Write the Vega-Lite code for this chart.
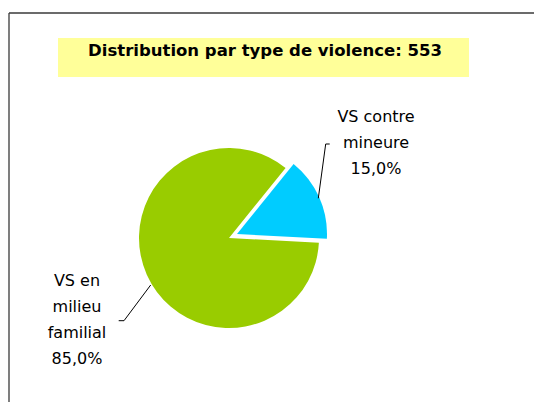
{
  "$schema": "https://vega.github.io/schema/vega-lite/v6.json",
  "width": 534,
  "height": 402,
  "autosize": {"type": "none"},
  "padding": 0,
  "background": "white",
  "config": {"view": {"stroke": null}},
  "data": {"values": [
    {"type": "VS contre mineure", "value": 83, "label": "VS contre\nmineure\n15,0%"},
    {"type": "VS en milieu familial", "value": 470, "label": "VS en\nmilieu\nfamilial\n85,0%"}
  ]},
  "layer": [
    {
      "data": {"values": [{}]},
      "mark": {"type": "rule", "stroke": "#3a3a3a", "strokeWidth": 1.3},
      "encoding": {
        "x": {"datum": 9, "type": "quantitative", "scale": {"domain": [0, 534], "nice": false, "zero": false}, "axis": null},
        "x2": {"datum": 534},
        "y": {"datum": 13, "type": "quantitative", "scale": {"domain": [0, 402], "nice": false, "zero": false, "reverse": true}, "axis": null}
      }
    },
    {
      "data": {"values": [{}]},
      "mark": {"type": "rule", "stroke": "#3a3a3a", "strokeWidth": 1.3},
      "encoding": {
        "x": {"datum": 9, "type": "quantitative"},
        "y": {"datum": 13, "type": "quantitative"},
        "y2": {"datum": 402}
      }
    },
    {
      "data": {"values": [{}]},
      "mark": {"type": "rect", "fill": "#FFFF99"},
      "encoding": {
        "x": {"datum": 58, "type": "quantitative"},
        "x2": {"datum": 469},
        "y": {"datum": 38, "type": "quantitative"},
        "y2": {"datum": 77}
      }
    },
    {
      "data": {"values": [{"titre": "Distribution par type de violence: 553"}]},
      "mark": {"type": "text", "font": "DejaVu Sans", "fontWeight": "bold", "fontSize": 16.5, "color": "#000000", "align": "center", "baseline": "middle"},
      "encoding": {
        "x": {"datum": 265, "type": "quantitative"},
        "y": {"datum": 50.5, "type": "quantitative"},
        "text": {"field": "titre"}
      }
    },
    {
      "transform": [
        {"stack": "value", "groupby": [], "as": ["t0", "t1"], "sort": [{"field": "type", "order": "ascending"}]},
        {"filter": "datum.type === 'VS en milieu familial'"}
      ],
      "mark": {"type": "arc", "outerRadius": 90, "fill": "#99CC00"},
      "encoding": {
        "x": {"datum": 229, "type": "quantitative"},
        "y": {"datum": 238, "type": "quantitative"},
        "theta": {"field": "t0", "type": "quantitative", "stack": null, "scale": {"domain": [0, 553], "range": [0.68, 6.963]}},
        "theta2": {"field": "t1"}
      }
    },
    {
      "transform": [
        {"stack": "value", "groupby": [], "as": ["t0", "t1"], "sort": [{"field": "type", "order": "ascending"}]},
        {"filter": "datum.type === 'VS contre mineure'"}
      ],
      "mark": {"type": "arc", "outerRadius": 90, "fill": "#00CCFF", "xOffset": 8, "yOffset": -4},
      "encoding": {
        "x": {"datum": 229, "type": "quantitative"},
        "y": {"datum": 238, "type": "quantitative"},
        "theta": {"field": "t0", "type": "quantitative", "stack": null},
        "theta2": {"field": "t1"}
      }
    },
    {
      "data": {"values": [{}]},
      "mark": {"type": "rule", "stroke": "#000000", "strokeWidth": 1},
      "encoding": {
        "x": {"datum": 318.3, "type": "quantitative"},
        "y": {"datum": 198.3, "type": "quantitative"},
        "x2": {"datum": 325.7},
        "y2": {"datum": 144}
      }
    },
    {
      "data": {"values": [{}]},
      "mark": {"type": "rule", "stroke": "#000000", "strokeWidth": 1},
      "encoding": {
        "x": {"datum": 325.7, "type": "quantitative"},
        "y": {"datum": 144, "type": "quantitative"},
        "x2": {"datum": 329.7}
      }
    },
    {
      "data": {"values": [{}]},
      "mark": {"type": "rule", "stroke": "#000000", "strokeWidth": 1},
      "encoding": {
        "x": {"datum": 150.7, "type": "quantitative"},
        "y": {"datum": 285, "type": "quantitative"},
        "x2": {"datum": 124},
        "y2": {"datum": 320.7}
      }
    },
    {
      "data": {"values": [{}]},
      "mark": {"type": "rule", "stroke": "#000000", "strokeWidth": 1},
      "encoding": {
        "x": {"datum": 124, "type": "quantitative"},
        "y": {"datum": 320.7, "type": "quantitative"},
        "x2": {"datum": 118.7}
      }
    },
    {
      "transform": [{"filter": "datum.type === 'VS contre mineure'"}],
      "mark": {"type": "text", "font": "DejaVu Sans", "fontSize": 16, "lineHeight": 26, "lineBreak": "\n", "align": "center", "baseline": "middle", "color": "#000000"},
      "encoding": {
        "x": {"datum": 376, "type": "quantitative"},
        "y": {"datum": 117, "type": "quantitative"},
        "text": {"field": "label"}
      }
    },
    {
      "transform": [{"filter": "datum.type === 'VS en milieu familial'"}],
      "mark": {"type": "text", "font": "DejaVu Sans", "fontSize": 16, "lineHeight": 26, "lineBreak": "\n", "align": "center", "baseline": "middle", "color": "#000000"},
      "encoding": {
        "x": {"datum": 77, "type": "quantitative"},
        "y": {"datum": 281, "type": "quantitative"},
        "text": {"field": "label"}
      }
    }
  ]
}
